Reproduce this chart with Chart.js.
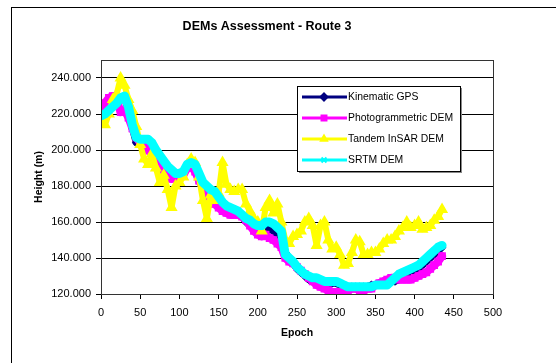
<!DOCTYPE html>
<html>
<head>
<meta charset="utf-8">
<script src="https://cdn.jsdelivr.net/npm/chart.js@4"></script>
<style>
  html, body { margin: 0; padding: 0; background: #fff; overflow: hidden; }
  #wrap { position: relative; width: 556px; height: 363px; }
</style>
</head>
<body>
<div id="wrap"><canvas id="demChart" width="556" height="363"></canvas></div>
<script>
const epochs = [
  0, 5, 10, 15, 20, 25, 30, 35, 40, 45,
  50, 55, 60, 65, 70, 75, 80, 85, 90, 95,
  100, 105, 110, 115, 120, 125, 130, 135, 140, 145,
  150, 155, 160, 165, 170, 175, 180, 185, 190, 195,
  200, 205, 210, 215, 220, 225, 230, 235, 240, 245,
  250, 255, 260, 265, 270, 275, 280, 285, 290, 295,
  300, 305, 310, 315, 320, 325, 330, 335, 340, 345,
  350, 355, 360, 365, 370, 375, 380, 385, 390, 395,
  400, 405, 410, 415, 420, 425, 430, 435
];

const kinematicGps = [
  219, 221, 224, 226, 228, 229, 229, 222, 212, 204,
  203, 204, 204, 202, 198, 195, 192, 190, 188, 186,
  186, 187, 191, 192, 190, 185, 180, 178, 176, 174,
  171, 168, 166, 166, 166, 165, 163, 160, 158, 156,
  155, 155, 156, 156, 155, 152, 150, 143, 140, 137,
  134, 132, 130, 128, 127, 127, 126, 126, 126, 126,
  126, 125, 124, 124, 124, 124, 124, 124, 124, 125,
  125, 126, 127, 127, 127, 127, 128, 129, 131, 132,
  133, 134, 136, 138, 140, 142, 144, 146
];

const photoDem = [
  220, 226, 229, 230, 228, 221, 222, 218, 212, 207,
  204, 202, 200, 197, 193, 190, 189, 187, 184, 185,
  186, 186, 190, 191, 188, 183, 179, 176, 172, 170,
  168, 166, 165, 164, 164, 164, 163, 161, 158, 155,
  153, 152, 153, 151, 150, 148, 146, 140, 138, 137,
  135, 133, 131, 129, 127, 125, 124, 123, 122, 121,
  121, 121, 122, 122, 123, 123, 122, 122, 123, 123,
  125, 126, 127, 128, 129, 129, 128, 128, 128, 128,
  129, 130, 131, 132, 134, 136, 138, 141
];

const tandemDem = [
  216, 214, 220, 228, 231, 240, 236, 228, 222, 213,
  203, 195, 192, 198, 190, 182, 186, 178, 168, 180,
  182, 185, 192, 195, 193, 185, 172, 162, 175, 172,
  176, 193, 181, 178, 177, 178, 178, 170, 166, 162,
  160, 155, 168, 172, 165, 170, 160, 150, 148, 152,
  153, 155, 160, 162, 158, 147, 158, 160, 150, 145,
  146, 142, 136, 137, 143, 150, 149, 142, 142, 143,
  143, 145, 148, 150, 150, 152, 155, 157, 160, 157,
  158, 160, 156, 157, 158, 161, 163, 167
];

const srtmDem = [
  219, 220, 222, 224, 226, 229, 230, 224, 214, 207,
  206, 206, 206, 204, 200, 197, 194, 191, 189, 187,
  187, 188, 192, 193, 192, 187, 182, 180, 178, 177,
  174, 171, 169, 168, 167, 166, 164, 162, 161, 159,
  158, 158, 160, 160, 159, 157, 155, 142, 140, 138,
  135, 133, 131, 130, 129, 129, 128, 127, 127, 127,
  127, 126, 125, 124, 124, 124, 124, 124, 124, 124,
  125, 125, 125, 125, 127, 129, 131, 132, 133, 134,
  135, 136, 138, 140, 142, 144, 146, 147
];

const yTicks = [120, 140, 160, 180, 200, 220, 240];

const seriesNames = ["Kinematic GPS", "Photogrammetric DEM", "Tandem InSAR DEM", "SRTM DEM"];

const chartTitle = 'DEMs Assessment - Route 3';

const FONT = "'Liberation Sans', Arial, sans-serif";

function toPoints(values) {
  return values.map((v, i) => ({ x: epochs[i], y: v }));
}

const seriesStyles = [
  { color: '#000080', width: 7, point: 'rectRot', radius: 3, order: 3 },
  { color: '#FF00FF', width: 8, point: 'rect', radius: 4, order: 2 },
  { color: '#FFFF00', width: 6, point: 'triangle', radius: 5, order: 1 },
  { color: '#00FFFF', width: 9, point: 'crossRot', radius: 4, order: 0 },
];

const allValues = [kinematicGps, photoDem, tandemDem, srtmDem];

// frame, title, plot border and legend box drawn by hand
const decorations = {
  id: 'decorations',
  beforeDraw(chart) {
    const ctx = chart.ctx;
    ctx.save();
    ctx.fillStyle = '#fff';
    ctx.fillRect(0, 0, chart.width, chart.height);
    ctx.strokeStyle = '#000';
    ctx.lineWidth = 1;
    ctx.strokeRect(11.5, 7.5, 700, 500);
    ctx.fillStyle = '#000';
    ctx.font = 'bold 12.5px ' + FONT;
    ctx.textAlign = 'center';
    ctx.textBaseline = 'middle';
    ctx.fillText(chartTitle, 267, 27);
    ctx.restore();
  },
  afterDraw(chart) {
    const ctx = chart.ctx;
    const a = chart.chartArea;
    ctx.save();
    ctx.strokeStyle = '#333';
    ctx.lineWidth = 1;
    ctx.strokeRect(Math.round(a.left) + 0.5, Math.round(a.top) + 0.5,
      Math.round(a.right - a.left), Math.round(a.bottom - a.top));

    // legend
    const lx = 297, ly = 86, lw = 163, lh = 85;
    ctx.fillStyle = '#888';
    ctx.fillRect(lx + 2, ly + 2, lw, lh);
    ctx.fillStyle = '#fff';
    ctx.fillRect(lx, ly, lw, lh);
    ctx.strokeStyle = '#000';
    ctx.strokeRect(lx + 0.5, ly + 0.5, lw, lh);
    ctx.font = '10.4px ' + FONT;
    ctx.textBaseline = 'middle';
    seriesNames.forEach((name, i) => {
      const s = seriesStyles[i];
      const y = 97 + i * 21;
      ctx.strokeStyle = s.color;
      ctx.lineWidth = 3;
      ctx.beginPath();
      ctx.moveTo(302, y);
      ctx.lineTo(347, y);
      ctx.stroke();
      ctx.fillStyle = s.color;
      ctx.strokeStyle = s.color;
      ctx.lineWidth = 2;
      Chart.helpers.drawPoint(ctx, { pointStyle: s.point, radius: 3.5, rotation: 0, borderWidth: 2 }, 324, y);
      ctx.fillStyle = '#000';
      ctx.fillText(name, 348, y);
    });
    ctx.restore();
  }
};

new Chart(document.getElementById('demChart'), {
  type: 'scatter',
  data: {
    datasets: allValues.map((vals, i) => ({
      label: seriesNames[i],
      data: toPoints(vals),
      showLine: true,
      borderColor: seriesStyles[i].color,
      backgroundColor: seriesStyles[i].color,
      borderWidth: seriesStyles[i].width,
      borderJoinStyle: 'round',
      borderCapStyle: 'round',
      pointStyle: seriesStyles[i].point,
      pointRadius: seriesStyles[i].radius,
      pointBorderWidth: 2,
      order: seriesStyles[i].order,
    })),
  },
  options: {
    responsive: false,
    animation: false,
    devicePixelRatio: 1,
    layout: { padding: { left: 33, right: 63, top: 60, bottom: 24 } },
    plugins: {
      legend: { display: false },
      tooltip: { enabled: false },
      title: { display: false },
    },
    scales: {
      x: {
        type: 'linear',
        min: 0,
        max: 500,
        afterFit(scale) { scale.height = 45; },
        ticks: { stepSize: 50, color: '#000', padding: 7, maxRotation: 0,
          font: { family: FONT, size: 11 } },
        grid: { drawOnChartArea: false, color: '#000', tickLength: 5 },
        border: { color: '#333' },
        title: { display: true, text: 'Epoch', color: '#000', padding: 0,
          font: { family: FONT, size: 10.5, weight: 'bold', lineHeight: 1.2 } },
      },
      y: {
        type: 'linear',
        min: 120,
        max: 250,
        afterFit(scale) { scale.width = 68; },
        afterBuildTicks(scale) { scale.ticks = yTicks.map(v => ({ value: v })); },
        ticks: { color: '#000', padding: 5,
          callback: v => Number(v).toFixed(3),
          font: { family: FONT, size: 11 } },
        grid: { color: '#000', tickLength: 5 },
        border: { color: '#333' },
        title: { display: true, text: 'Height (m)', color: '#000', padding: 0,
          font: { family: FONT, size: 10.5, weight: 'bold', lineHeight: 1.2 } },
      },
    },
  },
  plugins: [decorations],
});
</script>
</body>
</html>
